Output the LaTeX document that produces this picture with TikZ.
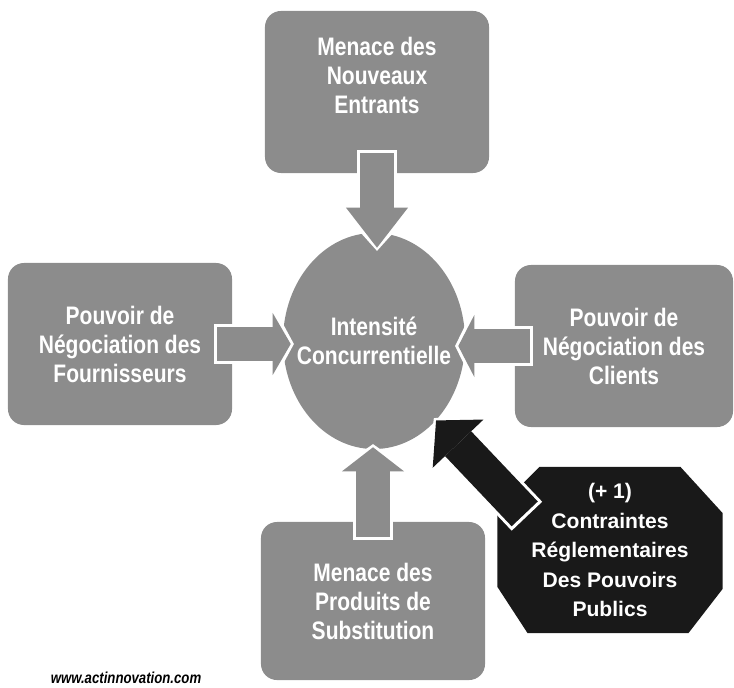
\documentclass[tikz,border=0pt]{standalone}
\usepackage{fontspec}
\setmainfont{Liberation Sans}
\newfontfamily\boxfont{Liberation Sans}[FakeStretch=0.83]
\usetikzlibrary{arrows.meta,shapes.geometric,calc}
\definecolor{forcegrey}{gray}{0.55}
\definecolor{statecolor}{gray}{0.1}
\begin{document}
\begin{tikzpicture}[x=0.025cm, y=-0.025cm,
  force/.style={fill=forcegrey, rounded corners=0.4cm, text=white, align=center,
    font=\boxfont\bfseries\fontsize{18}{20.6}\selectfont,
    minimum width=5.6cm, minimum height=4.05cm},
  rival/.style={ellipse, fill=forcegrey, text=white, align=center,
    inner xsep=-0.36cm, inner ysep=0pt,
    font=\boxfont\bfseries\fontsize{18}{21}\selectfont,
    minimum width=4.55cm, minimum height=5.4cm},
  state/.style={text=white, align=center, font=\bfseries\fontsize{15}{21}\selectfont,
    minimum width=5.625cm, minimum height=4.15cm,
    path picture={\fill[statecolor]
      ([xshift=1.05cm]path picture bounding box.north west) --
      ([xshift=-1.05cm]path picture bounding box.north east) --
      ([yshift=-1.15cm]path picture bounding box.north east) --
      ([yshift=1.1cm]path picture bounding box.south east) --
      ([xshift=-0.85cm]path picture bounding box.south east) --
      ([xshift=0.75cm]path picture bounding box.south west) --
      ([yshift=1.15cm]path picture bounding box.south west) --
      ([yshift=-1.05cm]path picture bounding box.north west) -- cycle;}},
  forcearrow/.style 2 args={draw=forcegrey, line width=0.85cm,
    -{Triangle[width=1.55cm, length=#1, line width=0pt]},
    preaction={draw=white, line width=1cm,
      -{Triangle[width=1.85cm, length=#2, line width=0pt]},
      shorten >=-0.08cm, shorten <=-0.08cm}},
  statearrow/.style={draw=statecolor, line width=0.9cm,
    -{Triangle[width=1.75cm, length=0.8cm, line width=0pt]}, shorten <=-1cm,
    preaction={draw=white, line width=1.05cm,
      -{Triangle[width=2.05cm, length=0.85cm, line width=0pt]},
      shorten >=-0.08cm, shorten <=-1.08cm}}]
  \useasboundingbox (0, 0) rectangle (734, 688);
  \node[force, text depth=24pt] (top) at (377, 92) {Menace des\\Nouveaux\\Entrants};
  \node[force] (left) at (120, 344) {Pouvoir de\\Négociation des\\Fournisseurs};
  \node[force, minimum width=5.45cm] (right) at (624, 346) {Pouvoir de\\Négociation des\\Clients};
  \node[force, minimum height=3.95cm] (bottom) at (373, 601) {Menace des\\Produits de\\Substitution};
  \node[rival] (circ) at (374, 341) {Intensité\\Concurrentielle};
  \node[state] (oct) at (610, 550) {(+ 1)\\Contraintes\\Réglementaires\\Des Pouvoirs\\Publics};
  \node[font=\boxfont\bfseries\itshape\fontsize{11.3}{13}\selectfont] (web) at (126, 678) {www.actinnovation.com};
  \draw[forcearrow={1cm}{1.03cm}] ($(top.south)+(0, -20)$) -- ($(top.south |- circ.north)+(0, 15)$);
  \draw[forcearrow={0.45cm}{0.5cm}] ($(left.east)+(-15, 0)$) -- ($(left.east -| circ.west)+(8, 0)$);
  \draw[forcearrow={0.4cm}{0.45cm}] ($(right.west)+(15, 0)$) -- ($(right.west -| circ.east)+(-7, 0)$);
  \draw[forcearrow={0.6cm}{0.65cm}] ($(bottom.north)+(0, 15)$) -- ($(bottom.north |- circ.south)+(0, -2)$);
  \draw[statearrow] (oct.150) -- (circ.-52);
\end{tikzpicture}
\end{document}
